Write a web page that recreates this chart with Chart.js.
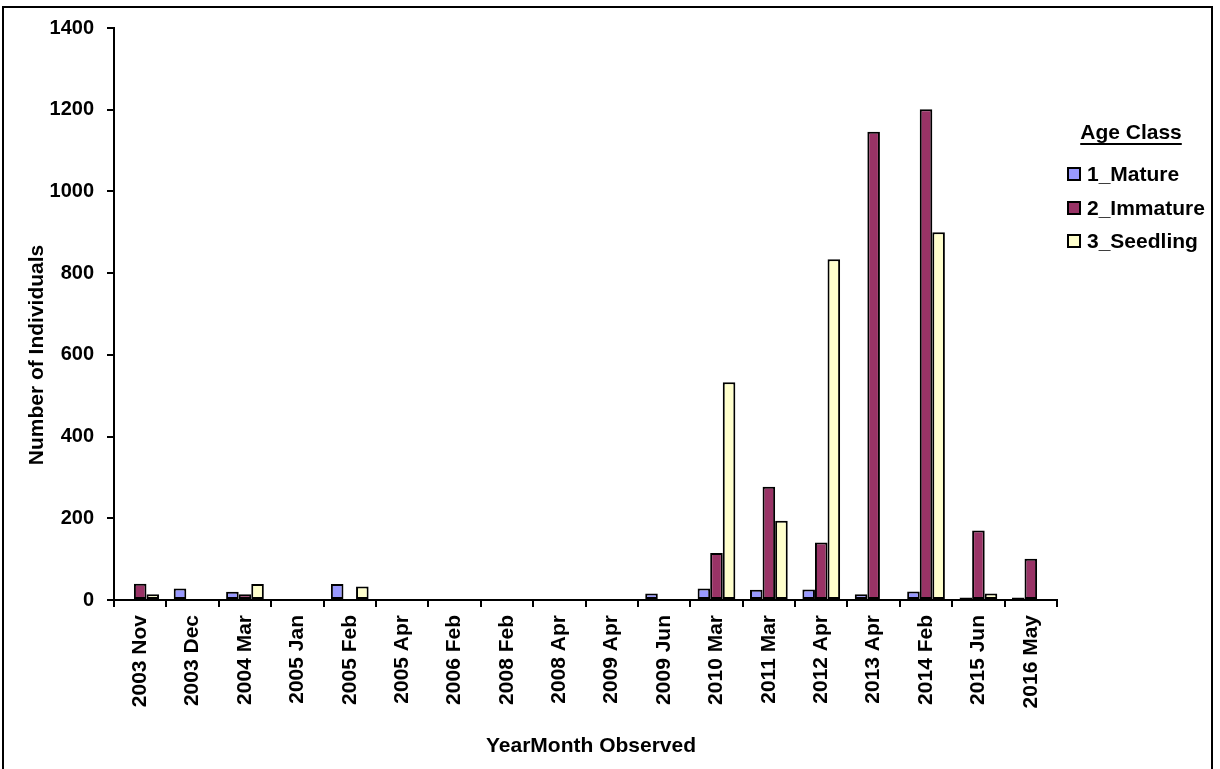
<!DOCTYPE html>
<html>
<head>
<meta charset="utf-8">
<script src="https://cdn.jsdelivr.net/npm/chart.js@4/dist/chart.umd.min.js"></script>
<style>
  html, body { margin: 0; padding: 0; background: #fff; }
  #wrap { position: relative; width: 1220px; height: 769px; }
</style>
</head>
<body>
<div id="wrap"><canvas id="c" width="1220" height="769"></canvas></div>
<script>
// Survey months
const categories = ['2003 Nov', '2003 Dec', '2004 Mar', '2005 Jan', '2005 Feb', '2005 Apr',
  '2006 Feb', '2008 Feb', '2008 Apr', '2009 Apr', '2009 Jun', '2010 Mar',
  '2011 Mar', '2012 Apr', '2013 Apr', '2014 Feb', '2015 Jun', '2016 May'];

// Counts per age class (null = none recorded)
const mature   = [1, 28, 20, null, 39, 1, null, null, null, null, 16, 28, 25, 26, 14, 21, 6, 6];
const immature = [40, null, 14, null, null, null, null, null, null, null, null, 115, 277, 141, 1146, 1201, 170, 101];
const seedling = [14, null, 39, null, 33, null, null, null, null, null, null, 533, 194, 834, null, 900, 16, 1];

// Value-axis labels
const yTickLabels = ['0', '200', '400', '600', '800', '1000', '1200', '1400'];

const seriesLabels = ['1_Mature', '2_Immature', '3_Seedling'];
const seriesColors = ['#9999FF', '#993366', '#FFFFCC'];

const yMin = 0, yMax = 1400, yStep = 200;

const FONT = '"Liberation Sans", Arial, sans-serif';

// Titles, legend and outer frame
const decorations = {
  id: 'decorations',
  beforeDraw(chart) {
    const ctx = chart.ctx;
    ctx.save();
    ctx.strokeStyle = '#000';
    ctx.lineWidth = 2;
    ctx.strokeRect(3, 7, 1209, 800);
    ctx.restore();
  },
  afterDraw(chart) {
    const ctx = chart.ctx;
    ctx.save();
    ctx.fillStyle = '#000';
    ctx.font = 'bold 21px ' + FONT;

    // y-axis title
    ctx.save();
    ctx.translate(37, 355);
    ctx.rotate(-Math.PI / 2);
    ctx.textAlign = 'center';
    ctx.textBaseline = 'middle';
    ctx.fillText('Number of Individuals', 0, 0);
    ctx.restore();

    // x-axis title
    ctx.textAlign = 'center';
    ctx.textBaseline = 'middle';
    ctx.fillText('YearMonth Observed', 591, 746);

    // legend
    const lx = 1068, tx = 1087;
    ctx.textAlign = 'center';
    ctx.fillText('Age Class', 1131, 133);
    const tw = ctx.measureText('Age Class').width;
    ctx.fillRect(1131 - tw / 2, 143, tw, 2);

    const rows = [174, 208, 241];
    chart.data.datasets.forEach((ds, i) => {
      const y = rows[i];
      ctx.fillStyle = ds.backgroundColor;
      ctx.fillRect(lx, y - 6, 12, 12);
      ctx.strokeStyle = '#000';
      ctx.lineWidth = 2;
      ctx.strokeRect(lx, y - 6, 12, 12);
      ctx.fillStyle = '#000';
      ctx.textAlign = 'left';
      ctx.fillText(ds.label, tx, y + 1);
    });
    ctx.restore();
  }
};

const datasets = [mature, immature, seedling].map((vals, i) => ({
  label: seriesLabels[i],
  data: vals,
  backgroundColor: seriesColors[i],
  borderColor: '#000',
  borderWidth: 2,
  borderSkipped: false,
  barPercentage: 1.0,
  categoryPercentage: 0.72
}));

new Chart(document.getElementById('c'), {
  type: 'bar',
  data: { labels: categories, datasets },
  plugins: [decorations],
  options: {
    responsive: false,
    animation: false,
    layout: { padding: { top: 28, right: 163, left: 0, bottom: 0 } },
    plugins: { legend: { display: false }, tooltip: { enabled: false } },
    scales: {
      x: {
        offset: true,
        grid: {
          display: true, offset: true, drawOnChartArea: false, drawTicks: true,
          tickLength: 7, color: '#000', lineWidth: 2
        },
        border: { display: true, color: '#000', width: 2 },
        ticks: {
          color: '#000', font: { family: FONT, size: 21, weight: 'bold' },
          minRotation: 90, maxRotation: 90, autoSkip: false, padding: 8
        },
        afterFit(scale) { scale.height = 169; }
      },
      y: {
        min: yMin, max: yMax,
        grid: {
          display: true, drawOnChartArea: false, drawTicks: true,
          tickLength: 7, color: '#000', lineWidth: 2
        },
        border: { display: true, color: '#000', width: 2 },
        ticks: {
          stepSize: yStep, color: '#000', padding: 13,
          font: { family: FONT, size: 20, weight: 'bold' },
          callback: (v, i) => yTickLabels[i]
        },
        afterFit(scale) { scale.width = 114; }
      }
    }
  }
});
</script>
</body>
</html>
